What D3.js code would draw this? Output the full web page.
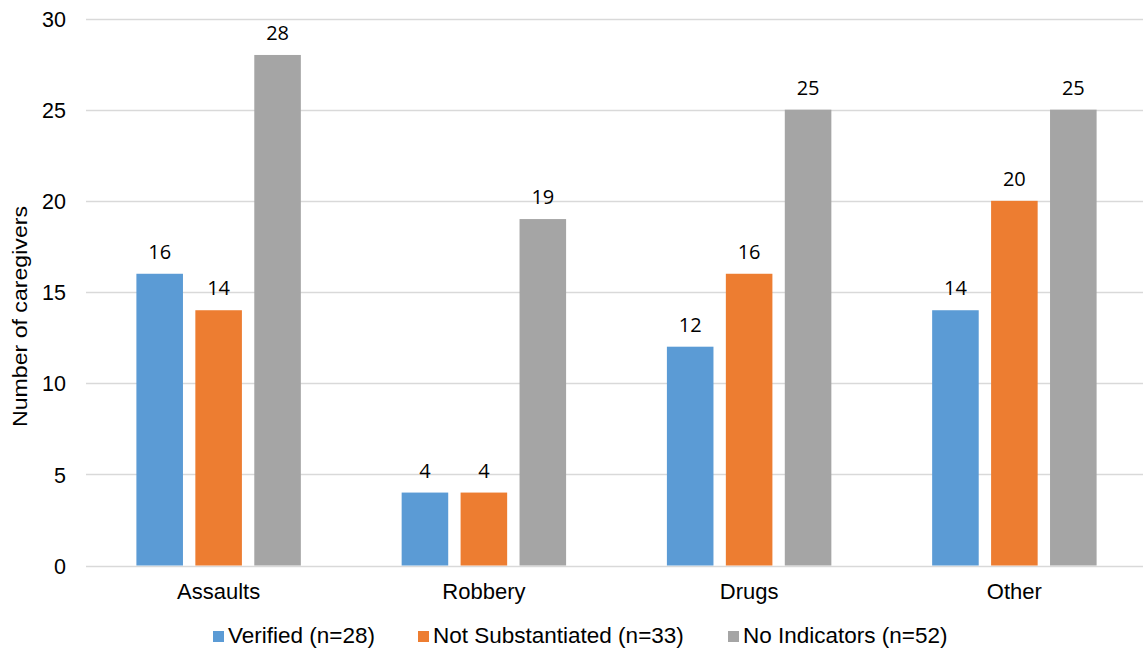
<!DOCTYPE html>
<html><head><meta charset="utf-8">
<script src="https://cdn.jsdelivr.net/npm/d3@7"></script>
<style>body{margin:0;background:#fff}svg{display:block}</style>
</head><body>
<svg id="chart" width="1143" height="652"></svg>
<script>
const categories = ["Assaults", "Robbery", "Drugs", "Other"];
const seriesNames = ["Verified (n=28)", "Not Substantiated (n=33)", "No Indicators (n=52)"];
const verified = [16, 4, 12, 14];
const notSubstantiated = [14, 4, 16, 20];
const noIndicators = [28, 19, 25, 25];
const yTicks = [0, 5, 10, 15, 20, 25, 30];
const colors = ["#5B9BD5", "#ED7D31", "#A5A5A5"];

(function () {
const series = [verified, notSubstantiated, noIndicators];
const svg = d3.select("#chart");
const pLeft = 86, pRight = 1147, pTop = 18.5, pBottom = 565.5;
const AR = "Liberation Sans, Arial, sans-serif";

const y = d3.scaleLinear().domain([0, 30]).range([pBottom, pTop]);
const x0 = d3.scaleBand().domain(categories).range([pLeft, pRight]).padding(0);
const step = x0.step();
const x1 = d3.scaleBand().domain(d3.range(3)).range([50.4, step - 50.4]).paddingInner(0.21).paddingOuter(0);

// gridlines
svg.append("g").selectAll("line").data(yTicks).join("line")
  .attr("x1", pLeft).attr("x2", pRight)
  .attr("y1", d => Math.round(y(d)) + 0.5).attr("y2", d => Math.round(y(d)) + 0.5)
  .attr("stroke", "#D9D9D9").attr("stroke-width", 1.4);

// y axis labels
const yAxis = d3.axisLeft(y).tickValues(yTicks).tickSize(0).tickPadding(0);
const ga = svg.append("g").attr("transform", `translate(66,0)`).call(yAxis);
ga.select(".domain").remove();
ga.selectAll("text").attr("font-family", AR).attr("font-size", 21.5).attr("fill", "#000").attr("dy", "0.36em");

// x axis labels
const xAxis = d3.axisBottom(x0).tickSize(0).tickPadding(0);
const gx = svg.append("g").attr("transform", `translate(0,599)`).call(xAxis);
gx.select(".domain").remove();
gx.selectAll("text").attr("font-family", AR).attr("font-size", 22).attr("fill", "#000").attr("dy", "0");

// bars
const groups = svg.append("g").selectAll("g").data(categories).join("g")
  .attr("transform", d => `translate(${x0(d)},0)`);
groups.each(function(cat, ci) {
  const g = d3.select(this);
  series.forEach((s, si) => {
    g.append("rect")
      .attr("x", x1(si)).attr("width", x1.bandwidth())
      .attr("y", y(s[ci])).attr("height", y(0) - y(s[ci]))
      .attr("fill", colors[si]);
    g.append("text")
      .attr("x", x1(si) + x1.bandwidth() / 2)
      .attr("y", y(s[ci]) - 15)
      .attr("text-anchor", "middle")
      .attr("font-family", "Open Sans, Lato, sans-serif")
      .attr("font-size", 20).attr("fill", "#000")
      .text(s[ci]);
  });
});

// y axis title
svg.append("text")
  .attr("transform", `translate(27,316.5) rotate(-90)`)
  .attr("text-anchor", "middle")
  .attr("font-family", AR)
  .attr("font-size", 20).attr("fill", "#000")
  .attr("textLength", 221).attr("lengthAdjust", "spacingAndGlyphs")
  .text("Number of caregivers");

// legend
const legendX = [213, 418, 728];
const lg = svg.append("g").selectAll("g").data(seriesNames).join("g")
  .attr("transform", (d, i) => `translate(${legendX[i]},643)`);
lg.append("rect").attr("x", 0).attr("y", -12).attr("width", 11).attr("height", 11).attr("fill", (d, i) => colors[i]);
lg.append("text").attr("x", 15).attr("y", 0)
  .attr("font-family", AR).attr("font-size", 22.5).attr("fill", "#000")
  .text(d => d);
})();
</script>
</body></html>
